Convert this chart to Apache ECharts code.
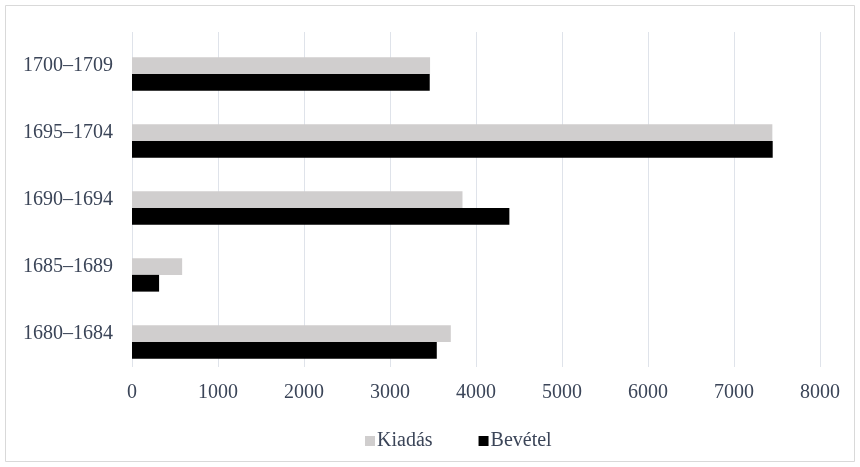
<!DOCTYPE html>
<html>
<head>
<meta charset="utf-8">
<script src="https://cdn.jsdelivr.net/npm/echarts@6/dist/echarts.min.js"></script>
<style>
html,body{margin:0;padding:0;background:#fff;}
#chart{width:860px;height:467px;}
</style>
</head>
<body>
<div id="chart"></div>
<script>
const categories = ['1680–1684', '1685–1689', '1690–1694', '1695–1704', '1700–1709'];
const kiadas = [3707, 583, 3843, 7446, 3466];
const bevetel = [3544, 315, 4388, 7450, 3462];
const xTicks = [0, 1000, 2000, 3000, 4000, 5000, 6000, 7000, 8000];

const textColor = '#3b4558';
const fontFam = '"Liberation Serif", "Times New Roman", serif';

const chart = echarts.init(document.getElementById('chart'), null, {renderer: 'canvas'});
chart.setOption({
  animation: false,
  backgroundColor: '#fff',
  graphic: [{
    type: 'rect',
    shape: {x: 5.5, y: 5.5, width: 849, height: 456},
    style: {fill: 'none', stroke: '#d9d9d9', lineWidth: 1},
    silent: true
  }],
  grid: {left: 132, right: 40, top: 32, bottom: 100, containLabel: false},
  legend: {
    data: ['Kiadás', 'Bevétel'],
    left: 360,
    top: 426,
    icon: 'rect',
    itemWidth: 10,
    itemHeight: 10,
    itemGap: 46,
    textStyle: {color: textColor, fontFamily: fontFam, fontSize: 20, padding: [0, 0, 0, -3]}
  },
  xAxis: {
    type: 'value',
    min: xTicks[0],
    max: xTicks[xTicks.length - 1],
    interval: 1000,
    axisLine: {show: false},
    axisTick: {show: false},
    axisLabel: {color: textColor, fontFamily: fontFam, fontSize: 20, margin: 16, formatter: v => String(v)},
    splitLine: {show: true, lineStyle: {color: '#dfe3ea', width: 1}}
  },
  yAxis: {
    type: 'category',
    data: categories,
    axisLine: {show: false},
    axisTick: {show: false},
    axisLabel: {color: textColor, fontFamily: fontFam, fontSize: 20, margin: 19},
    splitLine: {show: false}
  },
  series: [
    {name: 'spacer', type: 'bar', data: [], barGap: '0%', barCategoryGap: '25%'},
    {name: 'Kiadás', type: 'bar', data: kiadas, itemStyle: {color: '#d0cece'}, barGap: '0%', barCategoryGap: '25%'},
    {name: 'Bevétel', type: 'bar', data: bevetel, itemStyle: {color: '#000000'}, barGap: '0%', barCategoryGap: '25%'}
  ]
});
</script>
</body>
</html>
